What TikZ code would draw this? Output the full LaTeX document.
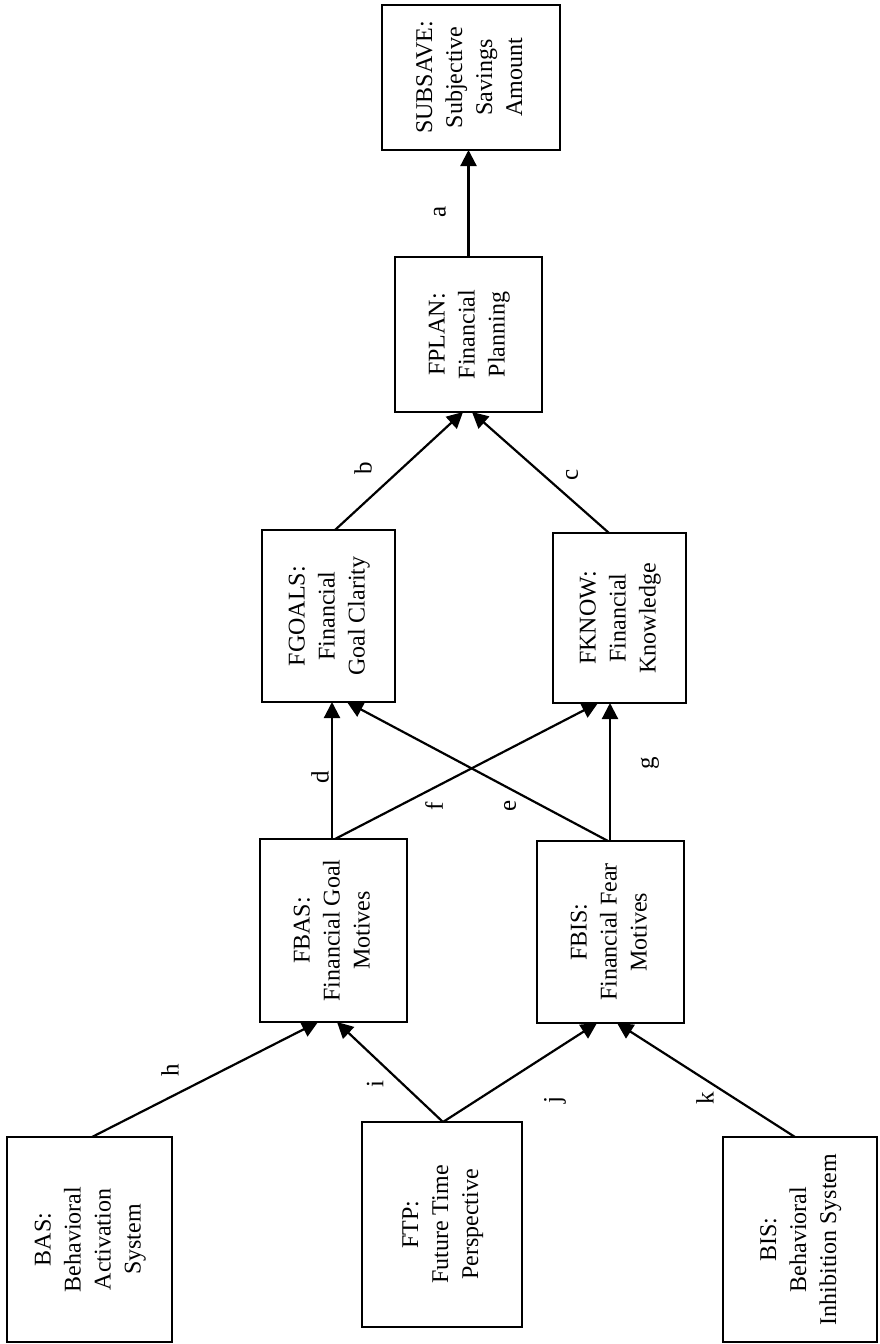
\documentclass[tikz,border=0pt]{standalone}
\usepackage{fontspec}
\setmainfont{Liberation Serif}
\usetikzlibrary{arrows.meta,calc}
\tikzset{
  box/.style={draw, line width=1.1pt, inner sep=0pt, outer sep=0pt, font=\fontsize{12}{15}\selectfont},
  conn/.style={line width=1.1pt, -{Triangle[length=8pt,width=8pt]}},
  lbl/.style={font=\fontsize{12.5}{15}\selectfont, inner sep=0pt, rotate=90}
}
\newcommand{\rtxt}[1]{\rotatebox{90}{\begin{tabular}{@{}c@{}}#1\end{tabular}}}
\begin{document}
\begin{tikzpicture}[x=0.5pt,y=-0.5pt]
\useasboundingbox[fill=white] (0,0) rectangle (879,1344);
% boxes
\node[box, minimum width=89pt, minimum height=72.5pt] (subsave) at (471,77.5) {\rtxt{SUBSAVE:\\Subjective\\Savings\\Amount}};
\node[box, minimum width=73.5pt, minimum height=77.5pt] (fplan) at (468.5,334.5) {\rtxt{FPLAN:\\Financial\\Planning}};
\node[box, minimum width=66.5pt, minimum height=86pt] (fgoals) at (328.5,616) {\rtxt{FGOALS:\\Financial\\Goal Clarity}};
\node[box, minimum width=66.5pt, minimum height=85pt] (fknow) at (619.5,618) {\rtxt{FKNOW:\\Financial\\Knowledge}};
\node[box, minimum width=73.5pt, minimum height=91.5pt] (fbas) at (333.5,930.5) {\rtxt{FBAS:\\Financial Goal\\Motives}};
\node[box, minimum width=73.5pt, minimum height=91pt] (fbis) at (610.5,932) {\rtxt{FBIS:\\Financial Fear\\Motives}};
\node[box, minimum width=82.5pt, minimum height=102.5pt] (bas) at (89.5,1239.5) {\rtxt{BAS:\\Behavioral\\Activation\\System}};
\node[box, minimum width=80pt, minimum height=102.5pt] (ftp) at (442,1224.5) {\rtxt{FTP:\\Future Time\\Perspective}};
\node[box, minimum width=77pt, minimum height=102.5pt] (bis) at (800,1239.5) {\rtxt{BIS:\\Behavioral\\Inhibition System}};
% connectors
\draw[conn] (fplan.north) -- (fplan.north |- subsave.south);
\draw[conn] ([xshift=3.25pt]fgoals.north) -- ([xshift=-2.75pt]fplan.south);
\draw[conn] ([xshift=-5.25pt]fknow.north) -- ([xshift=1.75pt]fplan.south);
\draw[conn] ([xshift=-0.75pt]fbas.north) -- ([xshift=1.75pt]fgoals.south);
\draw[conn] ([xshift=0.75pt]fbas.north) -- ([xshift=-10.75pt]fknow.south);
\draw[conn] ([xshift=-1.25pt]fbis.north) -- ([xshift=9.25pt]fgoals.south);
\draw[conn] ([xshift=-0.25pt]fbis.north) -- ([xshift=-4.75pt]fknow.south);
\draw[conn] ([xshift=1.25pt]bas.north) -- ([xshift=-7.75pt]fbas.south);
\draw[conn] ([xshift=0.5pt]ftp.north) -- ([xshift=1.75pt]fbas.south);
\draw[conn] ([xshift=0.5pt]ftp.north) -- ([xshift=-6.75pt]fbis.south);
\draw[conn] ([xshift=-2.5pt]bis.north) -- ([xshift=3.25pt]fbis.south);
% labels
\node[lbl] (la) at (440,212) {a};
\node[lbl] (lb) at (363,468) {b};
\node[lbl] (lc) at (572,475) {c};
\node[lbl] (ld) at (320,777) {d};
\node[lbl] (lf) at (434,806) {f};
\node[lbl] (le) at (510,806) {e};
\node[lbl] (lg) at (650,763) {g};
\node[lbl] (lh) at (170,1070) {h};
\node[lbl] (li) at (375,1084) {i};
\node[lbl] (lj) at (555,1100) {j};
\node[lbl] (lk) at (705,1098) {k};
\end{tikzpicture}
\end{document}
